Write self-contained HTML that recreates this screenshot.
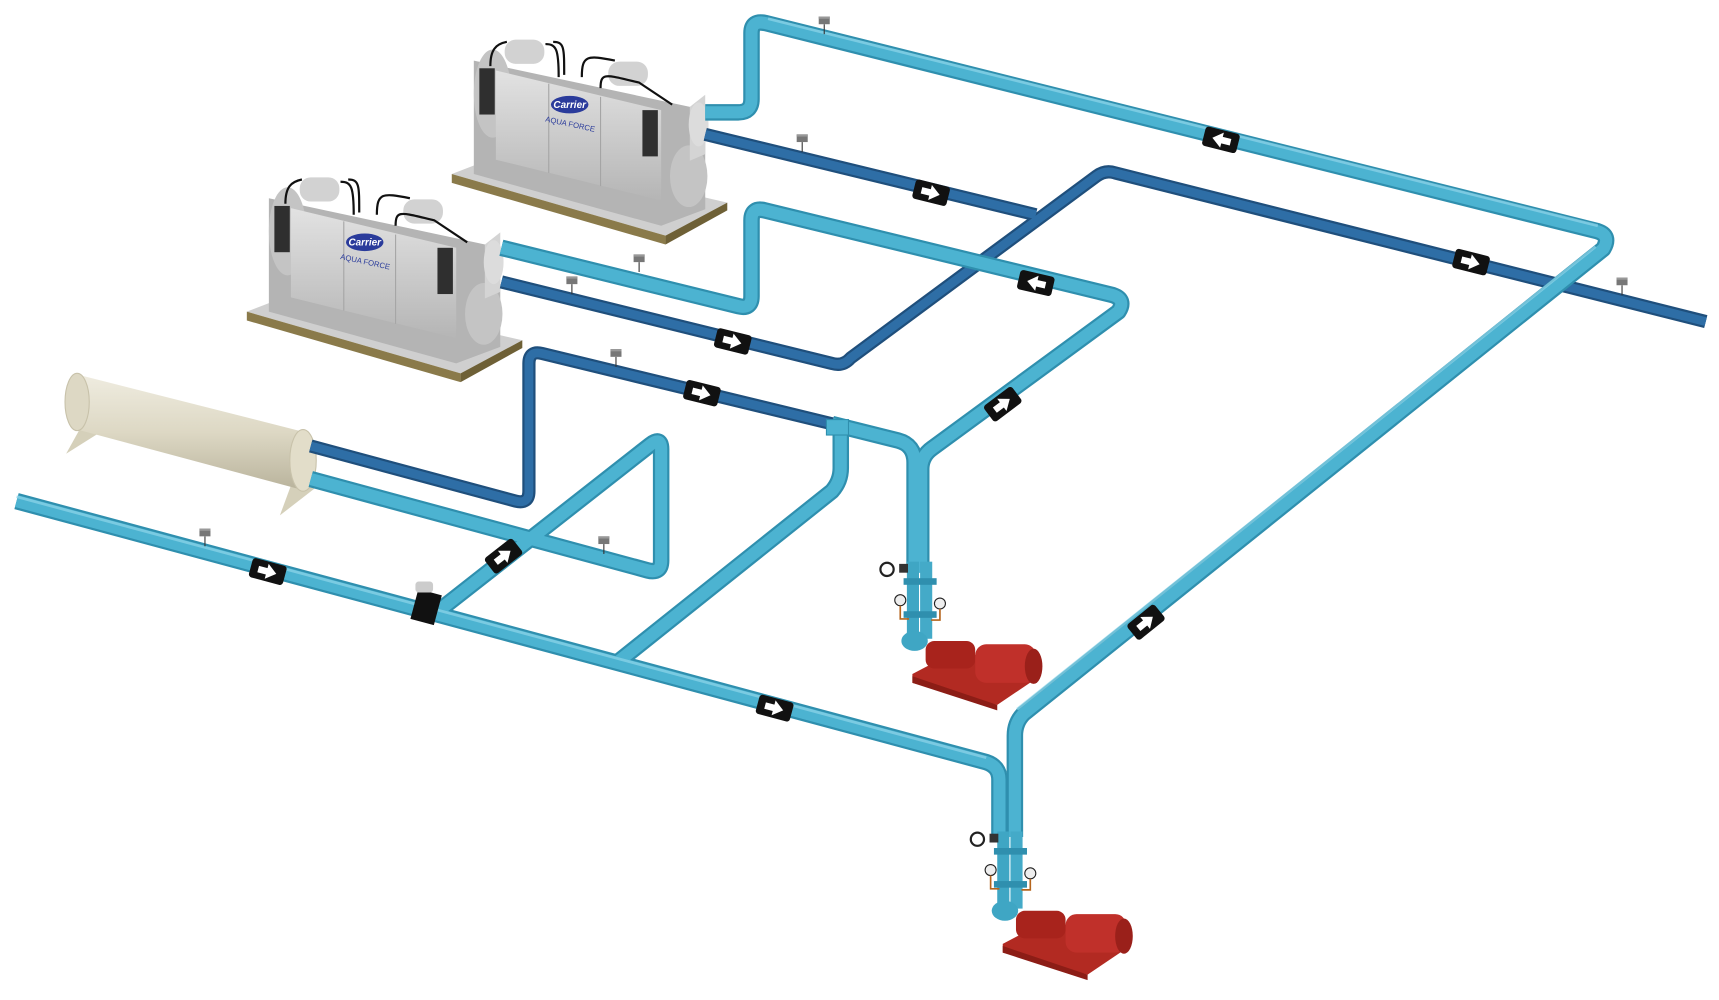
<!DOCTYPE html>
<html><head><meta charset="utf-8"><style>
html,body{margin:0;padding:0;background:#fff;}
svg{display:block;}
</style></head><body>
<svg width="1719" height="1000" viewBox="0 0 1560 908" preserveAspectRatio="none" xmlns="http://www.w3.org/2000/svg" font-family="Liberation Sans, sans-serif">
<defs>
<linearGradient id="hx" x1="0" y1="0" x2="0" y2="1"><stop offset="0" stop-color="#efece0"/><stop offset=".5" stop-color="#ddd8c4"/><stop offset="1" stop-color="#b9b39c"/></linearGradient>
<linearGradient id="gb" x1="0" y1="0" x2="0" y2="1"><stop offset="0" stop-color="#e2e2e2"/><stop offset="1" stop-color="#b5b5b5"/></linearGradient>
<g id="arr"><rect x="-16" y="-9" width="32" height="18" rx="3" fill="#111"/><path d="M-9,-3 h8 v-4 l9,7 l-9,7 v-4 h-8z" fill="#fff"/></g>
<g id="sen"><line x1="0" y1="0" x2="0" y2="9" stroke="#333" stroke-width="1"/><rect x="-5" y="-7" width="10" height="7" fill="#777"/><rect x="-5" y="-7" width="10" height="2" fill="#999"/></g>
<g id="chiller">
 <polygon points="410,158 462,138 660,184 604,214" fill="#cfcfcf"/>
 <polygon points="410,158 604,214 604,222 410,166" fill="#8a7a4a"/>
 <polygon points="604,214 660,184 660,191 604,222" fill="#6e6036"/>
 <polygon points="430,55 640,100 640,190 600,205 430,158" fill="#b4b4b4"/>
 <ellipse cx="447" cy="85" rx="17" ry="40" fill="#c4c4c4"/>
 <ellipse cx="625" cy="160" rx="17" ry="28" fill="#c4c4c4"/>
 <polygon points="450,64 600,100 600,182 450,145" fill="url(#gb)"/>
 <line x1="498" y1="76" x2="498" y2="157" stroke="#a5a5a5"/>
 <line x1="545" y1="88" x2="545" y2="169" stroke="#a5a5a5"/>
 <rect x="435" y="62" width="14" height="42" fill="#2f2f2f"/>
 <rect x="583" y="100" width="14" height="42" fill="#2f2f2f"/>
 <polygon points="626,97 640,86 640,140 626,146" fill="#d4d4d4"/>
 <ellipse cx="634" cy="113" rx="9" ry="20" fill="#dcdcdc"/>
 <rect x="458" y="36" width="36" height="22" rx="10" fill="#d2d2d2"/>
 <rect x="552" y="56" width="36" height="22" rx="10" fill="#d2d2d2"/>
 <path d="M445,60 c0,-15 5,-20 15,-22 M495,40 c10,0 12,5 12,30 M502,38 c10,0 10,5 10,30 M528,70 c0,-20 5,-20 30,-15 M545,80 c0,-15 5,-12 35,-5 L610,95" stroke="#111" stroke-width="2" fill="none"/>
 <ellipse cx="517" cy="95" rx="17" ry="8" fill="#2a3b9b"/>
 <text x="517" y="98" font-size="9" font-style="italic" font-weight="bold" fill="#fff" text-anchor="middle">Carrier</text>
 <text x="517" y="115" font-size="7" fill="#2a3b9b" text-anchor="middle" transform="rotate(12 517 115)">AQUA FORCE</text>
</g>
</defs>

<use href="#chiller"/>
<use href="#chiller" transform="translate(-186,125)"/>

<!-- heat exchanger -->
<polygon points="60,412 75,385 98,388" fill="#d5d0ba"/>
<polygon points="254,468 268,430 290,440" fill="#d5d0ba"/>
<polygon points="70,340 275,392 275,445 70,390" fill="url(#hx)"/>
<ellipse cx="70" cy="365" rx="11" ry="26" fill="#ddd8c4" stroke="#c8c2aa"/>
<ellipse cx="275" cy="418" rx="12" ry="28" fill="#e2ddc9" stroke="#c8c2aa"/>

<g fill="none" stroke-linecap="butt" stroke-linejoin="round">
<g stroke="#1f4f7c" stroke-width="12">
 <path d="M640,122 L940,195"/>
 <path d="M455,256 L755,330 Q765,333 772,325 L995,160 Q1003,154 1012,157 L1548,292"/>
 <path d="M282,405 L468,455 Q480,458 480,446 L480,330 Q480,318 492,321 L760,386"/>
</g>
<g stroke="#2e6ea6" stroke-width="8">
 <path d="M640,122 L940,195"/>
 <path d="M455,256 L755,330 Q765,333 772,325 L995,160 Q1003,154 1012,157 L1548,292"/>
 <path d="M282,405 L468,455 Q480,458 480,446 L480,330 Q480,318 492,321 L760,386"/>
</g>
<g stroke="#2f8fae" stroke-width="15">
 <path d="M640,102 L670,102 Q682,102 682,90 L682,30 Q682,18 695,21 L1450,210 Q1462,214 1455,226 L929,648 Q921,656 921,668 L921,760"/>
 <path d="M455,225 L670,278 Q682,281 682,269 L682,200 Q682,188 694,191 L1010,268 Q1022,272 1015,283 L846,407 Q836,414 836,426 L836,520"/>
 <path d="M755,385 L815,400 Q830,404 830,420 L830,520"/>
 <path d="M763,390 L763,425 Q763,437 755,446 L562,600"/>
 <path d="M15,455 L895,692 Q907,696 907,708 L907,760"/>
 <path d="M282,435 L588,518 Q600,521 600,509 L600,408 Q600,396 590,404 L395,557"/>
</g>
<g stroke="#4cb3d1" stroke-width="11">
 <path d="M640,102 L670,102 Q682,102 682,90 L682,30 Q682,18 695,21 L1450,210 Q1462,214 1455,226 L929,648 Q921,656 921,668 L921,760"/>
 <path d="M455,225 L670,278 Q682,281 682,269 L682,200 Q682,188 694,191 L1010,268 Q1022,272 1015,283 L846,407 Q836,414 836,426 L836,520"/>
 <path d="M755,385 L815,400 Q830,404 830,420 L830,520"/>
 <path d="M763,390 L763,425 Q763,437 755,446 L562,600"/>
 <path d="M15,455 L895,692 Q907,696 907,708 L907,760"/>
 <path d="M282,435 L588,518 Q600,521 600,509 L600,408 Q600,396 590,404 L395,557"/>
</g>
<g stroke="#8fd5ea" stroke-width="2.5" opacity=".7">
 <path d="M697,17 L1450,205"/>
 <path d="M15,451 L895,688"/>
 <path d="M1448,224 L923,644"/>
</g>
</g>
<rect x="750" y="381" width="20" height="14" fill="#4cb3d1" stroke="#2f8fae"/>

<!-- valve -->
<rect x="376" y="537" width="22" height="28" fill="#111" transform="rotate(15 386 550)"/>
<rect x="377" y="528" width="16" height="10" rx="3" fill="#ccc"/>

<use href="#arr" transform="translate(1108,127) rotate(194)"/>
<use href="#arr" transform="translate(845,175) rotate(14)"/>
<use href="#arr" transform="translate(1335,238) rotate(14)"/>
<use href="#arr" transform="translate(940,257) rotate(193)"/>
<use href="#arr" transform="translate(665,310) rotate(14)"/>
<use href="#arr" transform="translate(637,357) rotate(14)"/>
<use href="#arr" transform="translate(910,367) rotate(-37)"/>
<use href="#arr" transform="translate(457,505) rotate(-38)"/>
<use href="#arr" transform="translate(243,519) rotate(15)"/>
<use href="#arr" transform="translate(703,643) rotate(15)"/>
<use href="#arr" transform="translate(1040,565) rotate(-39)"/>

<use href="#sen" transform="translate(748,22)"/>
<use href="#sen" transform="translate(728,129)"/>
<use href="#sen" transform="translate(580,238)"/>
<use href="#sen" transform="translate(519,258)"/>
<use href="#sen" transform="translate(559,324)"/>
<use href="#sen" transform="translate(186,487)"/>
<use href="#sen" transform="translate(548,494)"/>
<use href="#sen" transform="translate(1472,259)"/>

<g id="pump1">
 <rect x="823" y="510" width="11" height="70" fill="#3fa6c4"/>
 <rect x="835" y="510" width="11" height="70" fill="#44aac8"/>
 <rect x="820" y="525" width="30" height="6" fill="#2f8fae"/>
 <rect x="820" y="555" width="30" height="6" fill="#2f8fae"/>
 <circle cx="805" cy="517" r="6" fill="none" stroke="#222" stroke-width="2"/>
 <rect x="816" y="512" width="8" height="8" fill="#333"/>
 <circle cx="817" cy="545" r="5" fill="#eee" stroke="#222"/>
 <circle cx="853" cy="548" r="5" fill="#eee" stroke="#222"/>
 <path d="M817,550 v12 h8 M853,553 v10 h-8" stroke="#b5651d" stroke-width="1.5" fill="none"/>
 <ellipse cx="830" cy="582" rx="12" ry="9" fill="#3fa6c4"/>
 <polygon points="828,612 870,590 945,613 905,640 828,620" fill="#b22a22"/>
 <polygon points="828,620 905,645 905,640 828,614" fill="#8c1d16"/>
 <rect x="840" y="582" width="45" height="25" rx="8" fill="#a8231c"/>
 <rect x="885" y="585" width="55" height="35" rx="10" fill="#c0302a"/>
 <ellipse cx="938" cy="605" rx="8" ry="16" fill="#9a201a"/>
</g>
<use href="#pump1" transform="translate(82,245)"/>
</svg>
</body></html>
